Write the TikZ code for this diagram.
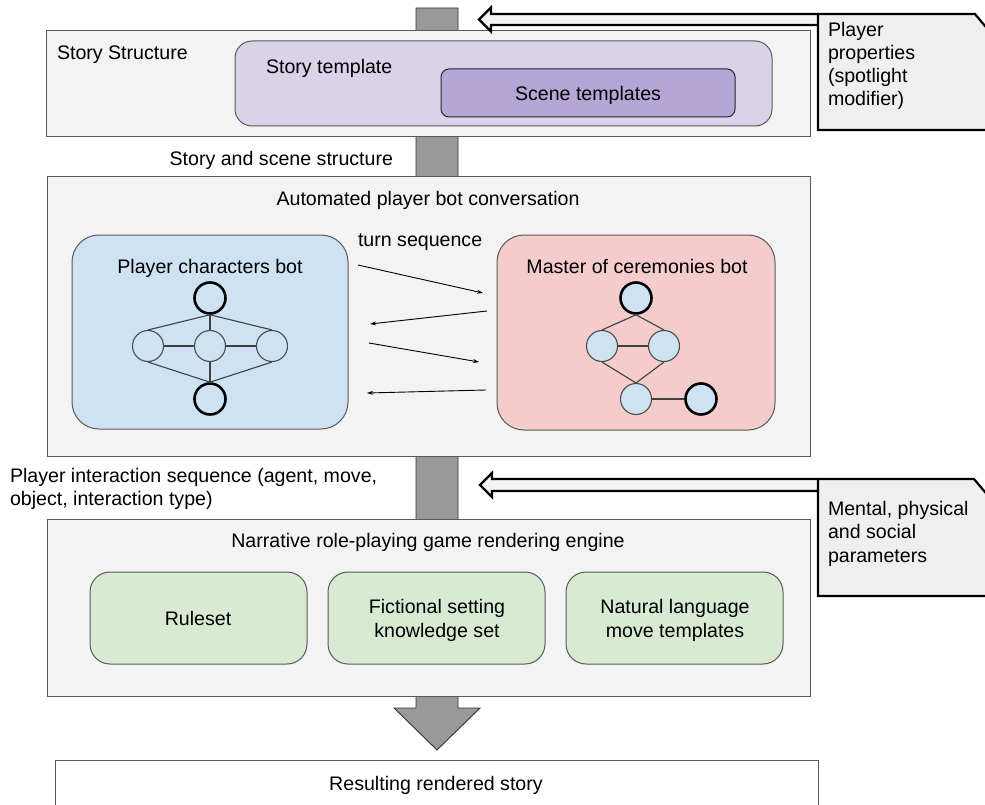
\documentclass[tikz,border=0pt]{standalone}
\usepackage{fontspec}
\setmainfont{Liberation Sans}
\usetikzlibrary{arrows.meta}
\definecolor{boxgray}{HTML}{F3F3F3}
\definecolor{edgegray}{HTML}{595959}
\definecolor{lav}{HTML}{D9D2E9}
\definecolor{lavdark}{HTML}{B4A7D6}
\definecolor{lblue}{HTML}{CFE2F3}
\definecolor{lpink}{HTML}{F4CCCC}
\definecolor{lgreen}{HTML}{D9EAD3}
\definecolor{bargray}{HTML}{999999}
\definecolor{callgray}{HTML}{EFEFEF}
\newcommand\dfont{\fontsize{19.6}{23.3}\selectfont}
\begin{document}
\begin{tikzpicture}[x=1pt,y=-1pt,
  txt/.style={font=\dfont, inner sep=0pt, outer sep=0pt, text=black},
  panel/.style={rectangle, draw=edgegray, fill=boxgray, line width=1pt, anchor=north west, inner sep=0pt, outer sep=0pt},
  rbox/.style={panel, rounded corners=#1},
  gnode/.style={circle, draw=black!70, line width=1.1pt, minimum size=31pt, inner sep=0pt},
  bnode/.style={circle, draw=black, line width=2.6pt, minimum size=31pt, inner sep=0pt},
  gedge/.style={draw=black!75, line width=1.1pt},
  turn/.style={draw=black, line width=0.9pt, -{Stealth[length=6pt,width=4pt]}},
  callout/.style={draw=black, line width=2.2pt, fill=callgray, line join=miter},
  hollow/.style={draw=black, line width=2.2pt, fill=boxgray, line join=miter},
  flow/.style={draw=black!80, line width=0.9pt, fill=bargray}
]
\useasboundingbox (0,0) rectangle (985,805);
\clip (0,0) rectangle (985,805);

% main flow bar with arrowhead
\draw[flow] (416,8) -- (458,8) -- (458,708) -- (480,708) -- (437,750) -- (394,708) -- (416,708) -- cycle;

% Story structure panel
\node[panel, minimum width=764, minimum height=106] (ss) at (46,31) {};
\node[txt, anchor=base west] (sslbl) at (57,60) {Story Structure};
\node[rbox=17pt, fill=lav, minimum width=537, minimum height=85] (st) at (235,41) {};
\node[txt, anchor=base west] (stlbl) at (266,74) {Story template};
\node[rbox=8pt, fill=lavdark, draw=black!85, minimum width=294, minimum height=48] (sc) at (441,69) {};
\node[txt, anchor=base] (sclbl) at (588,101) {Scene templates};

\node[txt, anchor=base east] (ssflow) at (393,166) {Story and scene structure};

% Automated player bot conversation panel
\node[panel, minimum width=763, minimum height=279] (ap) at (47,177) {};
\node[txt, anchor=base] (aplbl) at (428,206) {Automated player bot conversation};

\node[rbox=27pt, fill=lblue, minimum width=276, minimum height=194] (pcb) at (72,235) {};
\node[txt, anchor=base] (pcblbl) at (210,273) {Player characters bot};
\node[bnode] (p1) at (210,298) {};
\node[gnode] (p2) at (148,346) {};
\node[gnode] (p3) at (210,346) {};
\node[gnode] (p4) at (272,346) {};
\node[bnode] (p5) at (210,399) {};
\draw[gedge] (p1.south) -- (p2.north);
\draw[gedge] (p1.south) -- (p3.north);
\draw[gedge] (p1.south) -- (p4.north);
\draw[gedge] (p2.east) -- (p3.west);
\draw[gedge] (p3.east) -- (p4.west);
\draw[gedge] (p2.south) -- (p5.north);
\draw[gedge] (p3.south) -- (p5.north);
\draw[gedge] (p4.south) -- (p5.north);

\node[rbox=27pt, fill=lpink, minimum width=278, minimum height=195] (mcb) at (497,235) {};
\node[txt, anchor=base] (mcblbl) at (637,273) {Master of ceremonies bot};
\node[bnode, fill=lblue] (m1) at (636,298) {};
\node[gnode, fill=lblue] (m2) at (602,346) {};
\node[gnode, fill=lblue] (m3) at (664,346) {};
\node[gnode, fill=lblue] (m4) at (636,399) {};
\node[bnode, fill=lblue] (m5) at (701,399) {};
\draw[gedge] (m1.south) -- (m2.north);
\draw[gedge] (m1.south) -- (m3.north);
\draw[gedge] (m2.east) -- (m3.west);
\draw[gedge] (m2.south) -- (m4.north);
\draw[gedge] (m3.south) -- (m4.north);
\draw[gedge] (m4.east) -- (m5.west);

\node[txt, anchor=base west] (turnlbl) at (358,247) {turn sequence};
\coordinate (t1a) at (358,265); \coordinate (t1b) at (483,293);
\coordinate (t2a) at (487,311); \coordinate (t2b) at (370,324);
\coordinate (t3a) at (369,343); \coordinate (t3b) at (479,362);
\coordinate (t4a) at (486,390); \coordinate (t4b) at (367,393);
\draw[turn] (t1a) -- (t1b);
\draw[turn] (t2a) -- (t2b);
\draw[turn] (t3a) -- (t3b);
\draw[turn] (t4a) -- (t4b);

\node[txt, anchor=base west, align=left] (pis) at (10,482) {Player interaction sequence (agent, move,};
\node[txt, anchor=base west] (pis2) at (10,505) {object, interaction type)};

% Narrative engine panel
\node[panel, minimum width=763, minimum height=177] (np) at (47,519) {};
\node[txt, anchor=base] (nplbl) at (428,547) {Narrative role-playing game rendering engine};
\node[rbox=20pt, fill=lgreen, minimum width=217, minimum height=92] (g1) at (90,572) {};
\node[rbox=20pt, fill=lgreen, minimum width=217, minimum height=92] (g2) at (328,572) {};
\node[rbox=20pt, fill=lgreen, minimum width=217, minimum height=92] (g3) at (566,572) {};
\node[txt, anchor=base] (g1lbl) at (198,625) {Ruleset};
\node[txt, anchor=base] (g2lbl) at (437,613) {Fictional setting};
\node[txt, anchor=base] (g2lblb) at (437,637) {knowledge set};
\node[txt, anchor=base] (g3lbl) at (675,613) {Natural language};
\node[txt, anchor=base] (g3lblb) at (675,637) {move templates};

% Result
\node[panel, fill=white, minimum width=763, minimum height=70] (rs) at (55,760) {};
\node[txt, anchor=base] (rslbl) at (436,790) {Resulting rendered story};

% Callout 1 and hollow arrow
\coordinate (c1) at (818,14);
\draw[hollow] (c1) -- (491,14) -- (491,7.5) -- (479,19.5) -- (491,31.5) -- (491,25) -- (818,25);
\draw[callout] (c1) -- (975,14) -- (990,32) -- (990,130) -- (818,130) -- cycle;
\node[txt, anchor=base west] (cl1a) at (828,37) {Player};
\node[txt, anchor=base west] (cl1b) at (828,60) {properties};
\node[txt, anchor=base west] (cl1c) at (828,83) {(spotlight};
\node[txt, anchor=base west] (cl1d) at (828,106) {modifier)};

% Callout 2 and hollow arrow
\coordinate (c2) at (818,479);
\draw[hollow] (c2) -- (492,479) -- (492,473) -- (480,485) -- (492,497) -- (492,491) -- (818,491);
\draw[callout] (c2) -- (974,479) -- (990,498) -- (990,596) -- (818,596) -- cycle;
\node[txt, anchor=base west] (cl2a) at (828,515) {Mental, physical};
\node[txt, anchor=base west] (cl2b) at (828,538) {and social};
\node[txt, anchor=base west] (cl2c) at (828,562) {parameters};
\end{tikzpicture}
\end{document}
